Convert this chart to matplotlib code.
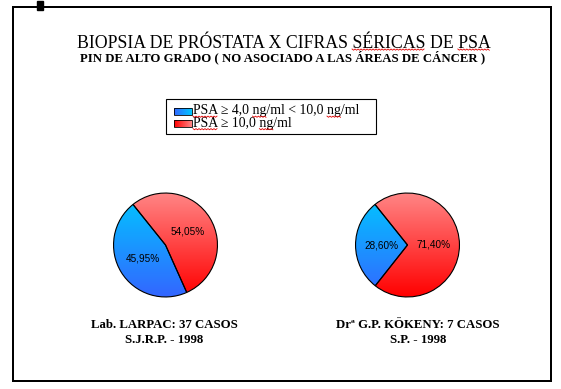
import numpy as np
import matplotlib
matplotlib.use("Agg")
import matplotlib.pyplot as plt
from matplotlib.colors import LinearSegmentedColormap
from matplotlib.patches import Rectangle

# ---- data ----
title = "BIOPSIA DE PRÓSTATA X CIFRAS SÉRICAS DE PSA"
subtitle = "PIN DE ALTO GRADO ( NO ASOCIADO A LAS ÁREAS DE CÁNCER )"
categories = ["PSA ≥ 4,0 ng/ml < 10,0 ng/ml", "PSA ≥ 10,0 ng/ml"]
lab_values = [45.95, 54.05]
kokeny_values = [28.60, 71.40]
caption_lab = ["Lab. LARPAC: 37 CASOS", "S.J.R.P. - 1998"]
caption_kokeny = ["Drª G.P. KÖKENY: 7 CASOS", "S.P. - 1998"]

W, H = 561, 389
SERIF = "Liberation Serif"
SANS = "Liberation Sans"

blue_cmap = LinearSegmentedColormap.from_list("b", ["#3366FF", "#00C8FF"])
red_cmap = LinearSegmentedColormap.from_list("r", ["#FF0000", "#FF8585"])
cmaps = [blue_cmap, red_cmap]

fig = plt.figure(figsize=(W / 100, H / 100), dpi=100)
fig.patch.set_facecolor("white")
ov = fig.add_axes([0, 0, 1, 1])
ov.set_xlim(0, W)
ov.set_ylim(H, 0)
ov.axis("off")

# frame and handle
ov.add_patch(Rectangle((13, 7), 538, 374, fill=False, lw=1.44, ec="black"))
ov.add_patch(Rectangle((37, 1), 6, 9, color="black", zorder=5))

t_title = ov.text(283.5, 47.5, title, ha="center", va="baseline", family=SERIF, fontsize=12.8)
t_sub = ov.text(283, 61, subtitle, ha="center", va="baseline", family=SERIF,
                fontsize=9.2, fontweight="bold")

# legend box
ov.add_patch(Rectangle((166, 99), 210, 35, fill=False, lw=0.8, ec="black"))
leg_texts = []
for i, (cat, cm) in enumerate(zip(categories, cmaps)):
    y0 = 107.5 + 12.5 * i
    grad = np.linspace(0, 1, 50).reshape(1, -1)
    ov.imshow(grad, extent=[174, 192, y0 + 7, y0], cmap=cm, aspect="auto", zorder=3)
    ov.add_patch(Rectangle((174, y0), 18, 7, fill=False, lw=0.6, ec="black", zorder=4))
    leg_texts.append(ov.text(193, y0 + 6.8, cat, ha="left", va="baseline",
                             family=SERIF, fontsize=9.9))
ov.set_xlim(0, W)
ov.set_ylim(H, 0)

# captions
for cx, cap in [(164, caption_lab), (418, caption_kokeny)]:
    ov.text(cx, 328, cap[0], ha="center", va="baseline", family=SERIF,
            fontsize=9.2, fontweight="bold")
    ov.text(cx, 343, cap[1], ha="center", va="baseline", family=SERIF,
            fontsize=9.2, fontweight="bold")

# pies
R = 53
for (cx, cy), vals in [((165.5, 245), lab_values), ((407.5, 245), kokeny_values)]:
    ax = fig.add_axes([(cx - R) / W, (H - cy - R) / H, 2 * R / W, 2 * R / H])
    ax.axis("off")
    wedges, texts, autotexts = ax.pie(
        vals, startangle=128.7, counterclock=True, radius=1,
        autopct=lambda p: f"{p:.2f}%".replace(".", ","), pctdistance=0.5,
        wedgeprops=dict(lw=0.8, edgecolor="black"),
        textprops=dict(family=SANS, fontsize=7.2, color="#000000"))
    grad = np.linspace(0, 1, 200).reshape(-1, 1)
    for w, cm in zip(wedges, cmaps):
        w.set_facecolor("none")
        w.set_zorder(3)
        im = ax.imshow(grad, extent=[-1, 1, -1, 1], origin="lower", cmap=cm,
                       aspect="auto", zorder=2)
        im.set_clip_path(w)
    for t in autotexts:
        t.set_zorder(5)
    ax.set_xlim(-1.02, 1.02)
    ax.set_ylim(-1.02, 1.02)

# red spell-check squiggles
fig.canvas.draw()
renderer = fig.canvas.get_renderer()


def word_span(tobj, prefix, word):
    props = dict(family=tobj.get_fontfamily(), fontsize=tobj.get_fontsize(),
                 fontweight=tobj.get_fontweight())

    def width(s):
        tmp = ov.text(0, 0, s, **props)
        w = tmp.get_window_extent(renderer).width
        tmp.remove()
        return w
    bb = tobj.get_window_extent(renderer)
    start = bb.x0 + width(prefix + word) - width(word)
    return start, start + width(word)


def squiggle(x0, x1, y):
    xs = np.arange(x0, x1 + 0.01, 1.5)
    ys = y + np.where(np.arange(len(xs)) % 2 == 0, 0.0, 1.2)
    ov.plot(xs, ys, color="#E00000", lw=0.6, zorder=6)


for prefix, word in [("BIOPSIA DE PRÓSTATA X CIFRAS ", "SÉRICAS"),
                     ("BIOPSIA DE PRÓSTATA X CIFRAS SÉRICAS DE ", "PSA")]:
    a, b = word_span(t_title, prefix, word)
    squiggle(a, b, 49)

for i, t in enumerate(leg_texts):
    txt = categories[i]
    pos = 0
    for word in ["PSA", "ng", "ng"]:
        k = txt.find(word, pos)
        if k < 0:
            continue
        a, b = word_span(t, txt[:k], word)
        squiggle(a, b, 107.5 + 12.5 * i + 8.6)
        pos = k + len(word)

ov.set_xlim(0, W)
ov.set_ylim(H, 0)
fig.savefig("out.png", dpi=100)
